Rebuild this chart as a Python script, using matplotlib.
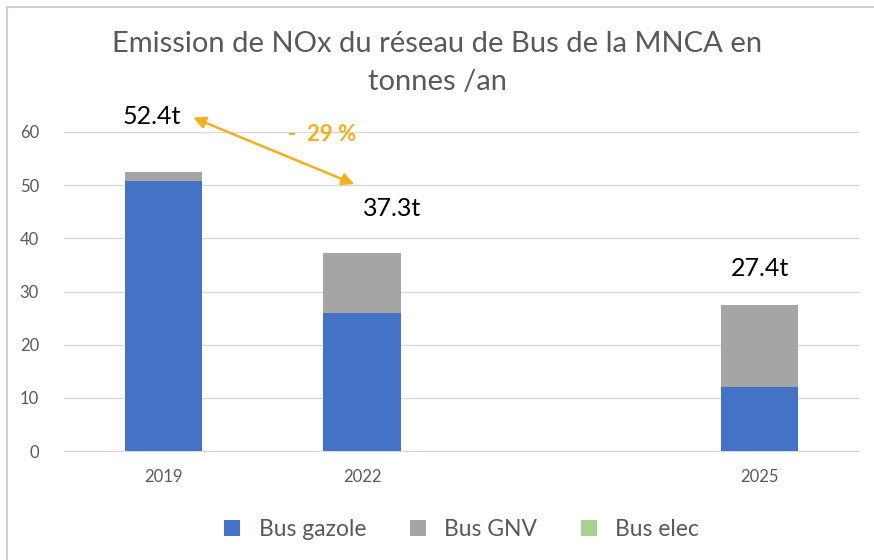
import matplotlib.pyplot as plt
from matplotlib.lines import Line2D

plt.rcParams['font.family'] = ['Lato', 'DejaVu Sans']

# emissions NOx (tonnes/an) par type de bus
years = ['2019', '2022', '', '2025']
bus_gazole = [50.7, 26.0, 0, 12.0]
bus_totals = [52.4, 37.3, 0, 27.4]
bus_gnv = [t - g for t, g in zip(bus_totals, bus_gazole)]
bus_elec = [0, 0, 0, 0]

blue = '#4472C4'
grey = '#A5A5A5'
green = '#A9D18E'
orange = '#F2B01E'
text_grey = '#595959'

fig = plt.figure(figsize=(8.74, 5.6), dpi=100)
ax = fig.add_axes([64 / 874, 1 - 451 / 560, 795 / 874, 319 / 560])

x = list(range(len(years)))
width = 0.39
ax.bar(x, bus_gazole, width, color=blue, label='Bus gazole', zorder=3)
ax.bar(x, bus_gnv, width, bottom=bus_gazole, color=grey, label='Bus GNV', zorder=3)
bottom_elec = [g + n for g, n in zip(bus_gazole, bus_gnv)]
ax.bar(x, bus_elec, width, bottom=bottom_elec, color=green, label='Bus elec', zorder=3)

ax.set_xlim(-0.5, len(years) - 0.5)
ax.set_ylim(0, 60)
ax.set_yticks(range(0, 61, 10))
ax.set_xticks(x)
ax.set_xticklabels(years)
ax.tick_params(axis='both', length=0, colors=text_grey, labelsize=12)
ax.tick_params(axis='y', pad=18)
ax.tick_params(axis='x', pad=13)
ax.grid(axis='y', color='#D9D9D9', linewidth=1, zorder=0)
for side in ['top', 'right', 'left']:
    ax.spines[side].set_visible(False)
ax.spines['bottom'].set_color('#D9D9D9')

# valeurs totales
ax.text(-0.06, 63.0, f'{bus_totals[0]}t', fontsize=18, ha='center', va='center', clip_on=False)
ax.text(1.15, 45.7, f'{bus_totals[1]}t', fontsize=18, ha='center', va='center')
ax.text(3.0, 34.4, f'{bus_totals[3]}t', fontsize=18, ha='center', va='center')

# variation 2019 -> 2022
ax.annotate('', xy=(0.15, 62.7), xytext=(0.96, 50.2),
            arrowprops=dict(arrowstyle='<|-|>', color=orange, lw=1.8,
                            mutation_scale=18, shrinkA=0, shrinkB=0),
            annotation_clip=False)
ax.text(0.8, 59.6, '-  29 %', fontsize=16, fontweight='bold', color=orange,
        ha='center', va='center')

fig.suptitle('Emission de NOx du réseau de Bus de la MNCA en\ntonnes /an',
             y=0.945, fontsize=21, color=text_grey, linespacing=1.6)

ax.legend(loc='upper center', bbox_to_anchor=(0.5, -0.15), ncol=3, frameon=False,
          fontsize=16.5, labelcolor=text_grey, handlelength=0.7, handleheight=0.7,
          columnspacing=1.9, handletextpad=0.8)

# cadre du graphique
fig.add_artist(Line2D([7 / 874, 1], [1 - 7 / 560, 1 - 7 / 560], color='#D0D0D0', lw=1.5))
fig.add_artist(Line2D([7 / 874, 7 / 874], [0, 1 - 7 / 560], color='#D0D0D0', lw=1.5))

fig.savefig('out.png', dpi=100)
